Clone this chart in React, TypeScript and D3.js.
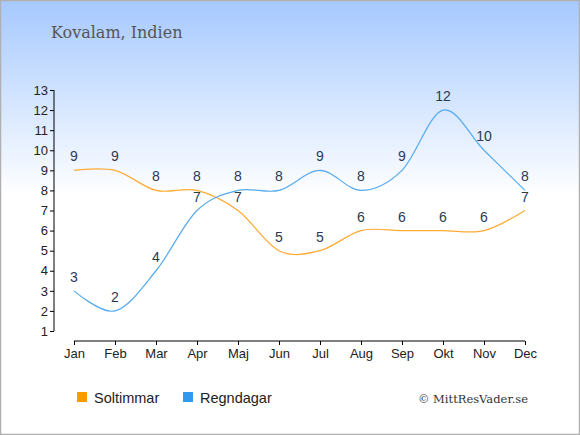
import React, { useEffect, useRef } from 'react';
import * as d3 from 'd3';

const months = ['Jan', 'Feb', 'Mar', 'Apr', 'Maj', 'Jun', 'Jul', 'Aug', 'Sep', 'Okt', 'Nov', 'Dec'];
const sunHours = [9, 9, 8, 8, 7, 5, 5, 6, 6, 6, 6, 7];
const rainDays = [3, 2, 4, 7, 8, 8, 9, 8, 9, 12, 10, 8];
const yTicks = [1, 2, 3, 4, 5, 6, 7, 8, 9, 10, 11, 12, 13];

const App: React.FC = () => {
  const svgRef = useRef<SVGSVGElement>(null);

  useEffect(() => {
    if (!svgRef.current) return;
    const W = 580;
    const H = 435;

    const svg = d3.select(svgRef.current);
    svg.selectAll('*').remove();
    svg.attr('width', W).attr('height', H);

    // background gradient
    const defs = svg.append('defs');
    const grad = defs.append('linearGradient')
      .attr('id', 'bg')
      .attr('x1', 0).attr('y1', 0).attr('x2', 0).attr('y2', 1);
    grad.append('stop').attr('offset', '0%').attr('stop-color', '#a6c9ff');
    grad.append('stop').attr('offset', '45%').attr('stop-color', '#ffffff');
    grad.append('stop').attr('offset', '100%').attr('stop-color', '#ffffff');

    svg.append('rect')
      .attr('x', 0.5).attr('y', 0.5)
      .attr('width', W - 1).attr('height', H - 1)
      .attr('fill', 'url(#bg)')
      .attr('stroke', '#b0b0b0')
      .attr('stroke-width', 1.5);

    // title
    svg.append('text')
      .attr('x', 51).attr('y', 38)
      .attr('font-family', 'DejaVu Serif, serif')
      .attr('font-size', 16)
      .attr('fill', '#555')
      .text('Kovalam, Indien');

    const x = d3.scalePoint<string>()
      .domain(months)
      .range([74, 525]);

    const y = d3.scaleLinear()
      .domain([1, 13])
      .range([331, 90]);

    const tickFont = 'Liberation Sans, Arial, sans-serif';

    // y axis
    const yAxis = svg.append('g')
      .attr('transform', 'translate(54,0)')
      .call(d3.axisLeft(y).tickValues(yTicks).tickSize(4).tickFormat(d3.format('d')));
    yAxis.select('.domain').attr('d', `M0,${y(13)}V${y(1)}`).attr('stroke', '#000');
    yAxis.selectAll('text')
      .attr('font-family', tickFont)
      .attr('font-size', 13)
      .attr('fill', '#222')
      .attr('x', -6);

    // x axis
    const xAxis = svg.append('g')
      .attr('transform', 'translate(0,341)')
      .call(d3.axisBottom(x).tickSize(4));
    xAxis.select('.domain').attr('d', `M${x('Jan')},0H${x('Dec')}`).attr('stroke', '#000');
    xAxis.selectAll('text')
      .attr('font-family', tickFont)
      .attr('font-size', 13)
      .attr('fill', '#222')
      .attr('y', 8);

    const line = d3.line<number>()
      .x((d, i) => x(months[i])!)
      .y(d => y(d))
      .curve(d3.curveCardinal.tension(0));

    const series = [
      { name: 'Soltimmar', values: sunHours, line: '#ffaa33', swatch: '#ff9900' },
      { name: 'Regndagar', values: rainDays, line: '#55aaee', swatch: '#3399ee' },
    ];

    series.forEach(s => {
      svg.append('path')
        .datum(s.values)
        .attr('fill', 'none')
        .attr('stroke', s.line)
        .attr('stroke-width', 1.2)
        .attr('d', line);
    });

    series.forEach(s => {
      svg.append('g')
        .selectAll('text')
        .data(s.values)
        .join('text')
        .attr('x', (d, i) => x(months[i])!)
        .attr('y', d => y(d) - 9)
        .attr('text-anchor', 'middle')
        .attr('font-family', tickFont)
        .attr('font-size', 14)
        .attr('fill', '#2a3a55')
        .text(d => d);
    });

    // legend
    const legend = svg.append('g');
    const legendX = [77, 183];
    series.forEach((s, i) => {
      legend.append('rect')
        .attr('x', legendX[i]).attr('y', 392)
        .attr('width', 10).attr('height', 10)
        .attr('fill', s.swatch);
      legend.append('text')
        .attr('x', legendX[i] + 17).attr('y', 403)
        .attr('font-family', tickFont)
        .attr('font-size', 14.5)
        .attr('fill', '#222')
        .text(s.name);
    });

    svg.append('text')
      .attr('x', 528).attr('y', 403)
      .attr('text-anchor', 'end')
      .attr('font-family', 'DejaVu Serif, serif')
      .attr('font-size', 11.5)
      .attr('fill', '#333')
      .text('© MittResVader.se');
  }, []);

  return (
    <div style={{ position: 'absolute', left: 0, top: 0 }}>
      <svg ref={svgRef} style={{ display: 'block' }}></svg>
    </div>
  );
};

export default App;
